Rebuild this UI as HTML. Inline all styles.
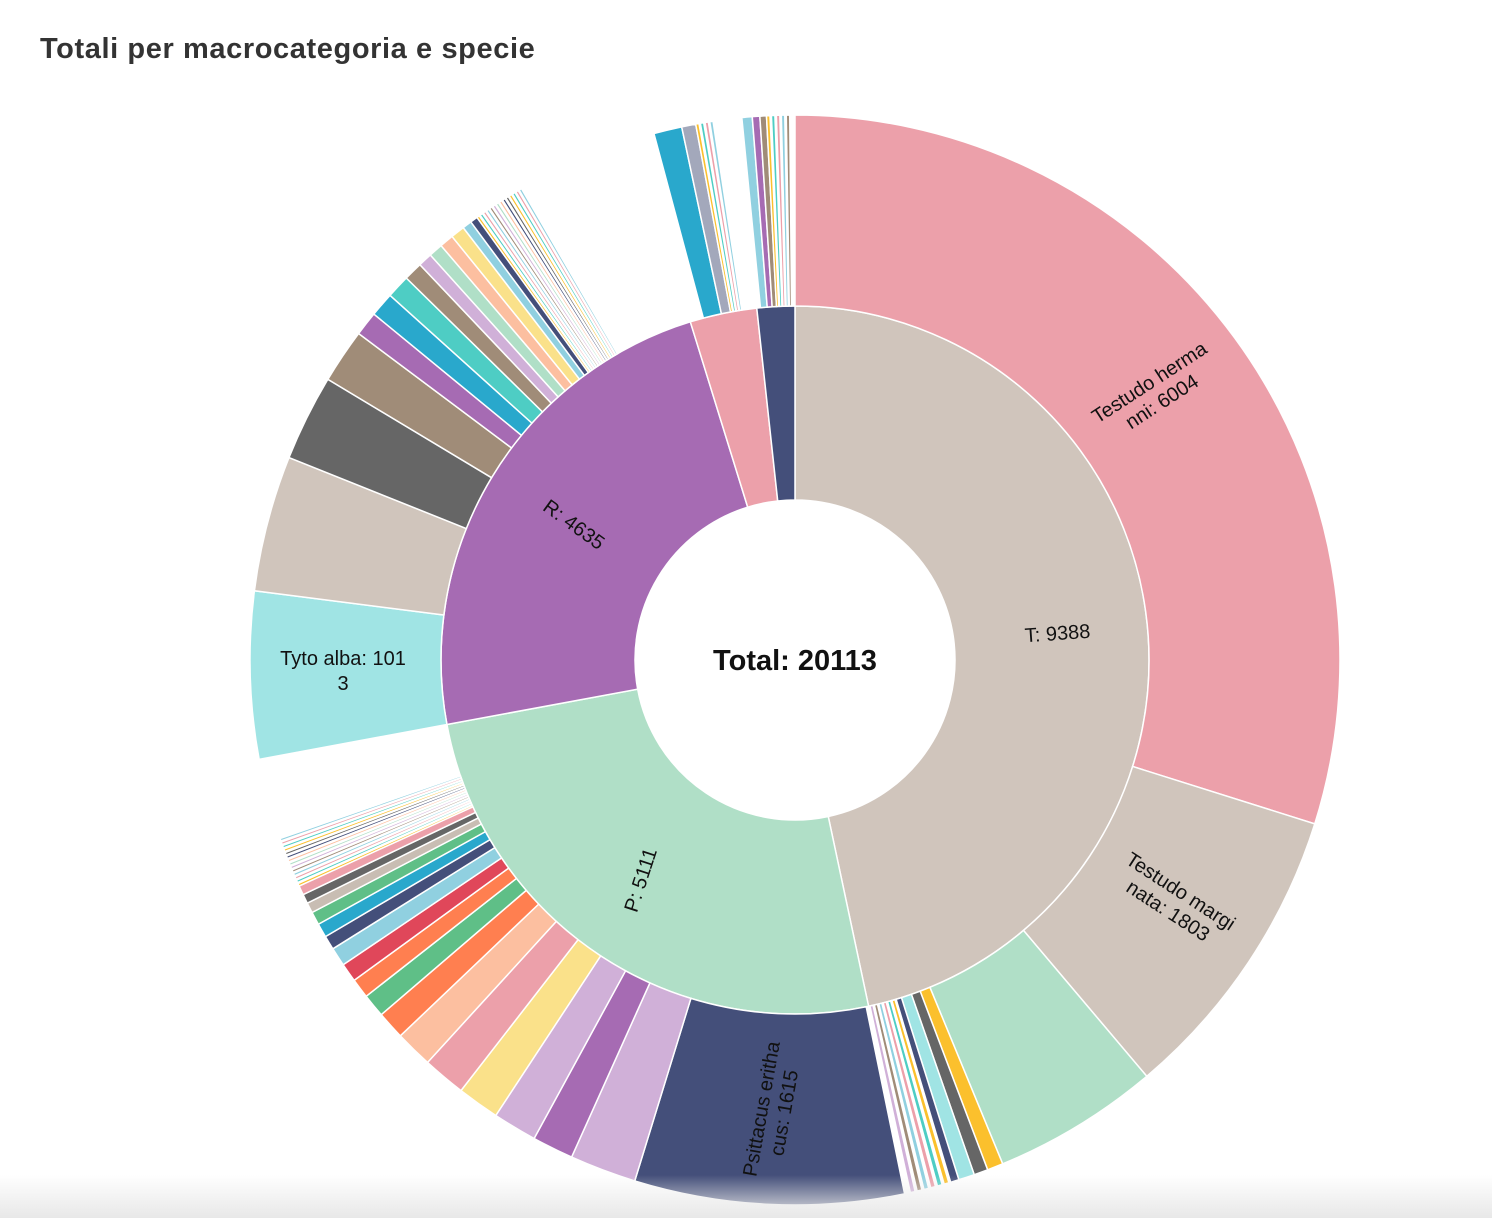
<!DOCTYPE html>
<html><head><meta charset="utf-8">
<style>
html,body{margin:0;padding:0;background:#fff;}
body{width:1492px;height:1218px;position:relative;overflow:hidden;font-family:"Liberation Sans",sans-serif;}
.title{position:absolute;left:40px;top:33px;font-size:29px;font-weight:bold;color:#333;letter-spacing:0.6px;}
.shade{position:absolute;left:0;top:1175px;width:1492px;height:43px;background:linear-gradient(#fff0,#e8e8e8);}
</style></head><body>
<div class="title">Totali per macrocategoria e specie</div>
<svg id="c" width="1492" height="1218" style="position:absolute;left:0;top:0">
<g id="arcs"></g>
<g font-family="Liberation Sans, sans-serif" font-size="20" fill="#111" text-anchor="middle">
<text x="795" y="670" font-size="29" font-weight="bold">Total: 20113</text>
<text transform="translate(1058,640) rotate(-4)">T: 9388</text>
<text transform="translate(570,530) rotate(36)">R: 4635</text>
<text transform="translate(647,882) rotate(-72)">P: 5111</text>
<text x="343" y="665">Tyto alba: 101</text>
<text x="343" y="690">3</text>
<g transform="translate(1153,388) rotate(-33)"><text y="0">Testudo herma</text><text y="23">nni: 6004</text></g>
<g transform="translate(1177,897) rotate(33)"><text y="0">Testudo margi</text><text y="23">nata: 1803</text></g>
<g transform="translate(768,1110) rotate(-80)"><text y="0">Psittacus eritha</text><text y="23">cus: 1615</text></g>
</g>
</svg>
<div class="shade"></div>
<script>
var cx=795,cy=660;
function pt(r,a){a=a*Math.PI/180;return [cx+r*Math.sin(a),cy-r*Math.cos(a)];}
function arc(r0,r1,a0,a1,col){
 var p1=pt(r1,a0),p2=pt(r1,a1),p3=pt(r0,a1),p4=pt(r0,a0),l=(a1-a0)>180?1:0;
 return '<path d="M'+p1+'A'+r1+','+r1+' 0 '+l+' 1 '+p2+'L'+p3+'A'+r0+','+r0+' 0 '+l+' 0 '+p4+'Z" fill="'+col+'" stroke="#fff" stroke-width="1.5"/>';
}
var h='';
var inner=[[0,168,'#d0c5bc'],[168,259.5,'#b0dfc7'],[259.5,342.8,'#a66bb3'],[342.8,353.8,'#eca0aa'],[353.8,360,'#444f7a']];
inner.forEach(function(s){h+=arc(160,354,s[0],s[1],s[2]);});
var o=[[0,107.5,'#eca0aa'],[107.5,139.8,'#d0c5bc'],[139.8,157.6,'#b0dfc7'],[157.6,159.3,'#fbc02d'],[159.3,160.8,'#666'],[160.8,162.5,'#a0e4e4'],[162.5,163.4,'#444f7a'],
[168.4,197.1,'#444f7a'],[197.1,204.2,'#d0b0d8'],[204.2,208.6,'#a66bb3'],[208.6,213.3,'#d0b0d8'],[213.3,217.8,'#fae18a'],[217.8,222.4,'#eca0aa'],[222.4,226.4,'#fcbfa0'],[226.4,229.4,'#ff7f50'],[229.4,231.9,'#5fbf87'],[231.9,234,'#ff7f50'],[234,236,'#e0475a'],[236,238,'#90d0e0'],[238,239.5,'#444f7a'],[239.5,241,'#29a8cc'],[241,242.4,'#5fbf87'],[242.4,243.5,'#c8bdb3'],[243.5,244.5,'#666'],[244.5,245.5,'#eca0aa'],
[259.5,277.3,'#a0e4e4'],[277.3,291.8,'#d0c5bc'],[291.8,301,'#666'],[301,306.8,'#a08c78'],[306.8,309.4,'#a66bb3'],[309.4,312,'#29a8cc'],[312,314.5,'#4ecdc4'],[314.5,316.5,'#a08c78'],[316.5,318,'#d0b0d8'],[318,319.5,'#b0dfc7'],[319.5,321,'#fcbfa0'],[321,322.5,'#fae18a'],[322.5,323.5,'#90d0e0'],[323.5,324.3,'#444f7a'],
[345,348,'#29a8cc'],[348,349.5,'#a3a8bb'],[354.4,355.5,'#90d0e0'],[355.5,356.3,'#a66bb3'],[356.3,357,'#a08c78']];
o.forEach(function(s){h+=arc(354,545,s[0],s[1],s[2]);});
var cols=['#fbc02d','#4ecdc4','#eca0aa','#90d0e0','#a08c78','#d0b0d8','#b0dfc7','#fcbfa0','#444f7a','#666'];
function thin(a0,a1,n){var d=(a1-a0)/n;for(var i=0;i<n;i++)h+=arc(354,545,a0+i*d,a0+(i+0.7)*d,cols[i%cols.length]);}
thin(163.6,168,6);thin(245.5,251,14);thin(324.3,330,14);thin(349.5,351.5,4);thin(357,359.6,5);
document.getElementById('arcs').innerHTML=h;
</script>
</body></html>
